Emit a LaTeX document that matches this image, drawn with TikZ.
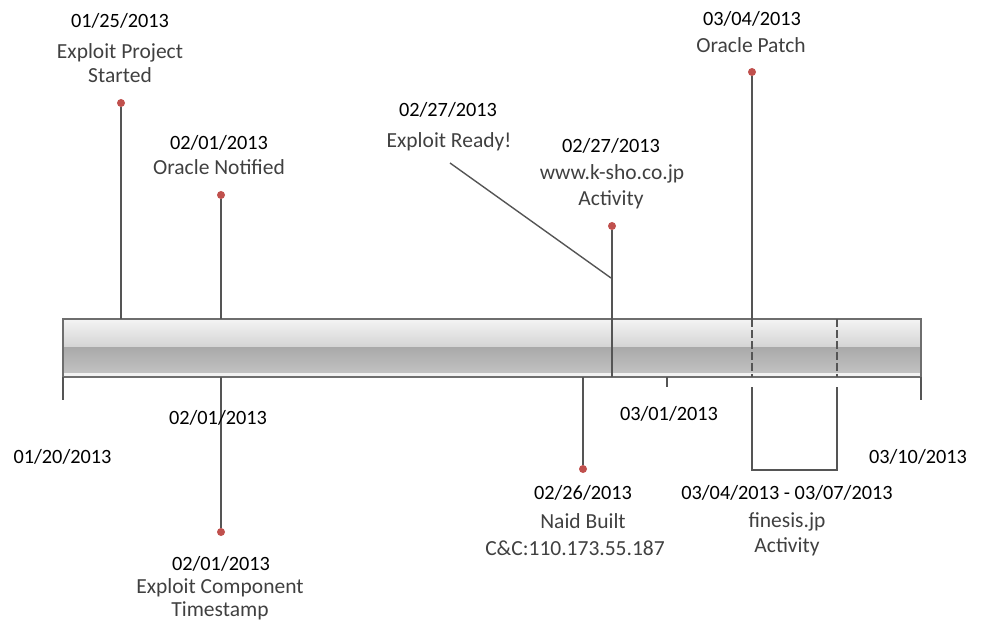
\documentclass[tikz,border=0pt]{standalone}
\usepackage{fontspec}
\setmainfont{Carlito}
\definecolor{linegray}{HTML}{555555}
\definecolor{dotred}{HTML}{C0504D}
\definecolor{barTop}{HTML}{F4F4F4}
\definecolor{barMid}{HTML}{D4D4D4}
\definecolor{barLowA}{HTML}{A9A9A9}
\definecolor{barLowB}{HTML}{C2C2C2}
\definecolor{barEdge}{HTML}{6E6E6E}
\definecolor{desctext}{HTML}{404040}
\begin{document}
\begin{tikzpicture}[x=1pt,y=-1pt,
  conn/.style={draw=linegray, line width=1.4pt},
  dashconn/.style={draw=linegray, line width=1.2pt, dash pattern=on 8pt off 3pt},
  dot/.style={circle, fill=dotred, inner sep=0pt, minimum size=8pt},
  datelbl/.style={anchor=base, font=\fontsize{20.3}{24}\selectfont, text=black, inner sep=0pt},
  desclbl/.style={anchor=base, font=\fontsize{21.5}{26}\selectfont, text=desctext, inner sep=0pt},
]
\useasboundingbox (0,0) rectangle (982,620);

% ---- timeline bar ----
\shade[top color=barTop, bottom color=barMid] (63,319) rectangle (921,347);
\shade[top color=barLowA, bottom color=barLowB] (63,347) rectangle (921,373);
\fill[white!90!gray] (63,373) rectangle (921,376);
\draw[draw=barEdge, line width=1.5pt] (63,319) rectangle (921,377);
\node[inner sep=0pt, minimum width=858pt, minimum height=58pt] (bar) at (492,348) {};

% ---- bar anchor coordinates ----
\coordinate (t1) at (121,319);
\coordinate (t2) at (221,319);
\coordinate (b3) at (221,377);
\coordinate (b4) at (583,377);
\coordinate (b5) at (612,377);
\coordinate (t6) at (752,319);
\coordinate (b6) at (752,377);
\coordinate (t7) at (837,319);
\coordinate (b7) at (837,377);
\coordinate (ls) at (63,377);
\coordinate (le) at (63,400);
\coordinate (rs) at (921,377);
\coordinate (re) at (921,400);
\coordinate (ms) at (667,377);
\coordinate (me) at (667,387);
\coordinate (er1) at (450,163);
\coordinate (er2) at (611,278);
\coordinate (k1) at (752,387);
\coordinate (k2) at (752,470);
\coordinate (k3) at (837,470);
\coordinate (k4) at (837,387);

% ---- dots ----
\node[dot] (d1) at (121,103) {};
\node[dot] (d2) at (221,195) {};
\node[dot] (d3) at (221,532) {};
\node[dot] (d4) at (583,469) {};
\node[dot] (d5) at (612,226) {};
\node[dot] (d6) at (752,72) {};

% ---- connectors ----
\draw[conn] (d1) -- (t1);
\draw[conn] (d2) -- (t2);
\draw[conn] (b3) -- (d3);
\draw[conn] (b4) -- (d4);
\draw[conn] (d5) -- (b5);
\draw[conn] (d6) -- (t6);
\draw[dashconn] (t6) -- (b6);
\draw[dashconn] (t7) -- (b7);
\draw[conn] (er1) -- (er2);
\draw[conn] (ls) -- (le);
\draw[conn] (rs) -- (re);
\draw[conn] (ms) -- (me);
\draw[conn, line width=2pt] (k1) -- (k2) -- (k3) -- (k4);

% ---- labels ----
\node[datelbl] (l1a) at (120,28) {01/25/2013};
\node[desclbl] (l1b) at (120,59) {Exploit Project};
\node[desclbl] (l1c) at (120,83) {Started};

\node[datelbl] (l2a) at (219,150) {02/01/2013};
\node[desclbl] (l2b) at (219,175) {Oracle Notified};

\node[datelbl] (l3a) at (448,117) {02/27/2013};
\node[desclbl] (l3b) at (449,148) {Exploit Ready!};

\node[datelbl] (l4a) at (611,153) {02/27/2013};
\node[desclbl] (l4b) at (612,180) {www.k-sho.co.jp};
\node[desclbl] (l4c) at (611,206) {Activity};

\node[datelbl] (l5a) at (752,26) {03/04/2013};
\node[desclbl] (l5b) at (751,53) {Oracle Patch};

\node[datelbl] (l6) at (218,424) {02/01/2013};
\node[datelbl] (l7) at (62.5,463) {01/20/2013};
\node[datelbl] (l8) at (669,420) {03/01/2013};
\node[datelbl] (l9) at (918,463) {03/10/2013};

\node[datelbl] (l10a) at (221,570) {02/01/2013};
\node[desclbl] (l10b) at (220,593) {Exploit Component};
\node[desclbl] (l10c) at (220,616) {Timestamp};

\node[datelbl] (l11a) at (583,499) {02/26/2013};
\node[desclbl] (l11b) at (583,528) {Naid Built};
\node[desclbl] (l11c) at (575,555) {C\&C:110.173.55.187};

\node[datelbl] (l12a) at (787,499) {03/04/2013 - 03/07/2013};
\node[desclbl] (l12b) at (787,527) {finesis.jp};
\node[desclbl] (l12c) at (787,552) {Activity};
\end{tikzpicture}
\end{document}
